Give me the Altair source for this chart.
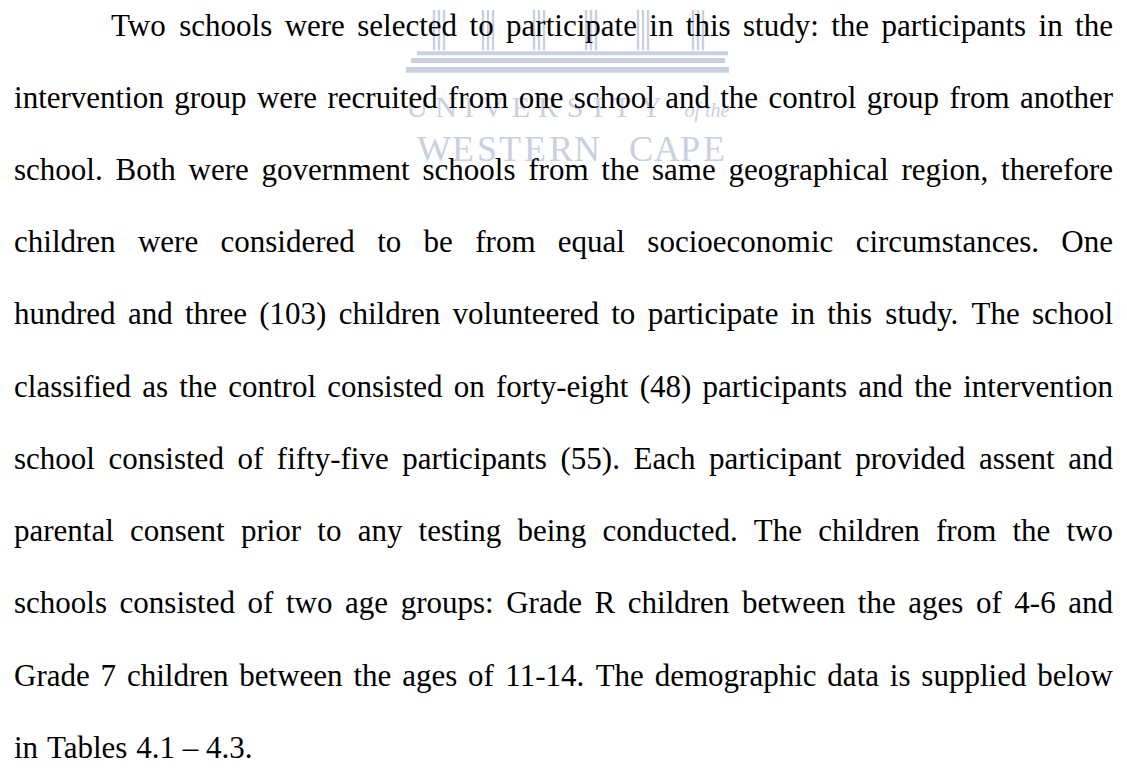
import altair as alt
import pandas as pd

# ---------------- data ----------------
LINES = [
    "Two schools were selected to participate in this study: the participants in the",
    "intervention group were recruited from one school and the control group from another",
    "school. Both were government schools from the same geographical region, therefore",
    "children were considered to be from equal socioeconomic circumstances. One",
    "hundred and three (103) children volunteered to participate in this study. The school",
    "classified as the control consisted on forty-eight (48) participants and the intervention",
    "school consisted of fifty-five participants (55). Each participant provided assent and",
    "parental consent prior to any testing being conducted. The children from the two",
    "schools consisted of two age groups: Grade R children between the ages of 4-6 and",
    "Grade 7 children between the ages of 11-14. The demographic data is supplied below",
    "in Tables 4.1 \u2013 4.3.",
]

# watermark (University of the Western Cape crest), page coordinates
COLUMN_CENTERS = [439, 488, 539, 591, 643, 698]
COLUMN_TOP = [0, 0, 0, 0, 0, 0]
COLUMN_BOTTOM = [49, 49, 49, 49, 49, 49]
STEP_LEFT = [417, 411, 406]
STEP_RIGHT = [728, 725, 729]
STEP_TOP = [50, 57, 66]
STEP_BOTTOM = [54, 62, 72]
UNI_LETTERS = list("UNIVERSITY")
UNI_CENTERS = [417, 446, 469, 493, 521, 548, 575, 598, 622, 651]
OFTHE_TEXT = ["of the"]
OFTHE_X = [707]
WC_LETTERS = list("WESTERNCAPE")
WC_CENTERS = [434, 463, 487, 510, 535, 561, 587, 641, 667, 690, 714]

# ---------------- layout ----------------
W, H = 1111, 756          # chart size; page has an 8px margin
FONT = "Liberation Serif"
FS = 31
LEFT, INDENT, RIGHT = 14, 110, 1113
BASE0, LEAD = 34, 73.6

# Times / Liberation Serif advance widths (1/1000 em)
TIMES = {
    ' ': 250, '(': 333, ')': 333, ',': 250, '-': 333, '.': 250, ':': 278,
    '0': 500, '1': 500, '2': 500, '3': 500, '4': 500, '5': 500, '6': 500,
    '7': 500, '8': 500, '9': 500, '\u2013': 500,
    'A': 722, 'B': 667, 'C': 667, 'D': 722, 'E': 611, 'F': 556, 'G': 722,
    'H': 722, 'I': 333, 'J': 389, 'K': 722, 'L': 611, 'M': 889, 'N': 722,
    'O': 722, 'P': 556, 'Q': 722, 'R': 667, 'S': 556, 'T': 611, 'U': 722,
    'V': 722, 'W': 944, 'X': 722, 'Y': 722, 'Z': 611,
    'a': 444, 'b': 500, 'c': 444, 'd': 500, 'e': 444, 'f': 333, 'g': 500,
    'h': 500, 'i': 278, 'j': 278, 'k': 500, 'l': 278, 'm': 778, 'n': 500,
    'o': 500, 'p': 500, 'q': 500, 'r': 333, 's': 389, 't': 278, 'u': 500,
    'v': 500, 'w': 722, 'x': 500, 'y': 500, 'z': 444,
}


def tw(s):
    return sum(TIMES.get(c, 500) for c in s) / 1000.0 * FS


rows = []
for i, line in enumerate(LINES):
    y = BASE0 + i * LEAD
    left = INDENT if i == 0 else LEFT
    words = line.split(" ")
    widths = [tw(w) for w in words]
    if i == len(LINES) - 1:
        gap = TIMES[' '] / 1000.0 * FS
    else:
        gap = (RIGHT - left - sum(widths)) / (len(words) - 1)
    x = left
    for w, wd in zip(words, widths):
        rows.append({"x": x + wd / 2.0, "y": y, "text": w})
        x += wd + gap
words_df = pd.DataFrame(rows)

XS = alt.Scale(domain=[8, 8 + W], nice=False, zero=False)
YS = alt.Scale(domain=[8, 8 + H], nice=False, zero=False, reverse=True)
WM = "#cbcfe2"

cols_rows = []
for c, t, b in zip(COLUMN_CENTERS, COLUMN_TOP, COLUMN_BOTTOM):
    for off in (-5, 0, 5):
        cols_rows.append({"x": c + off, "y": max(t, 8), "y2": b})
cols_df = pd.DataFrame(cols_rows)
columns = alt.Chart(cols_df).mark_rule(color=WM, strokeWidth=2.4).encode(
    x=alt.X("x:Q", scale=XS, axis=None),
    y=alt.Y("y:Q", scale=YS, axis=None),
    y2="y2:Q",
)

steps_df = pd.DataFrame({"x": STEP_LEFT, "x2": STEP_RIGHT, "y": STEP_TOP, "y2": STEP_BOTTOM})
steps = alt.Chart(steps_df).mark_rect(color=WM).encode(
    x=alt.X("x:Q", scale=XS, axis=None), x2="x2:Q",
    y=alt.Y("y:Q", scale=YS, axis=None), y2="y2:Q",
)

uni_df = pd.DataFrame({"x": UNI_CENTERS, "text": UNI_LETTERS, "y": [117] * len(UNI_LETTERS)})
uni = alt.Chart(uni_df).mark_text(font=FONT, fontSize=30, color=WM, align="center",
                                  baseline="alphabetic").encode(
    x=alt.X("x:Q", scale=XS, axis=None), y=alt.Y("y:Q", scale=YS, axis=None), text="text:N")

ofthe_df = pd.DataFrame({"x": OFTHE_X, "text": OFTHE_TEXT, "y": [117]})
ofthe = alt.Chart(ofthe_df).mark_text(font=FONT, fontSize=20, fontStyle="italic", color=WM,
                                      align="center", baseline="alphabetic").encode(
    x=alt.X("x:Q", scale=XS, axis=None), y=alt.Y("y:Q", scale=YS, axis=None), text="text:N")

wc_df = pd.DataFrame({"x": WC_CENTERS, "text": WC_LETTERS, "y": [162] * len(WC_LETTERS)})
wc = alt.Chart(wc_df).mark_text(font=FONT, fontSize=36, color=WM, align="center",
                                baseline="alphabetic").encode(
    x=alt.X("x:Q", scale=XS, axis=None), y=alt.Y("y:Q", scale=YS, axis=None), text="text:N")

body = alt.Chart(words_df).mark_text(font=FONT, fontSize=FS, color="#000000", align="center",
                                     baseline="alphabetic").encode(
    x=alt.X("x:Q", scale=XS, axis=None),
    y=alt.Y("y:Q", scale=YS, axis=None),
    text="text:N",
)

chart = alt.layer(steps, columns, uni, ofthe, wc, body).properties(
    width=W, height=H,
    autosize=alt.AutoSizeParams(type="fit", contains="padding"),
    padding=0,
    background="white",
).configure_view(stroke=None)

chart.save("out.html", embed_options={"renderer": "svg", "actions": False})
